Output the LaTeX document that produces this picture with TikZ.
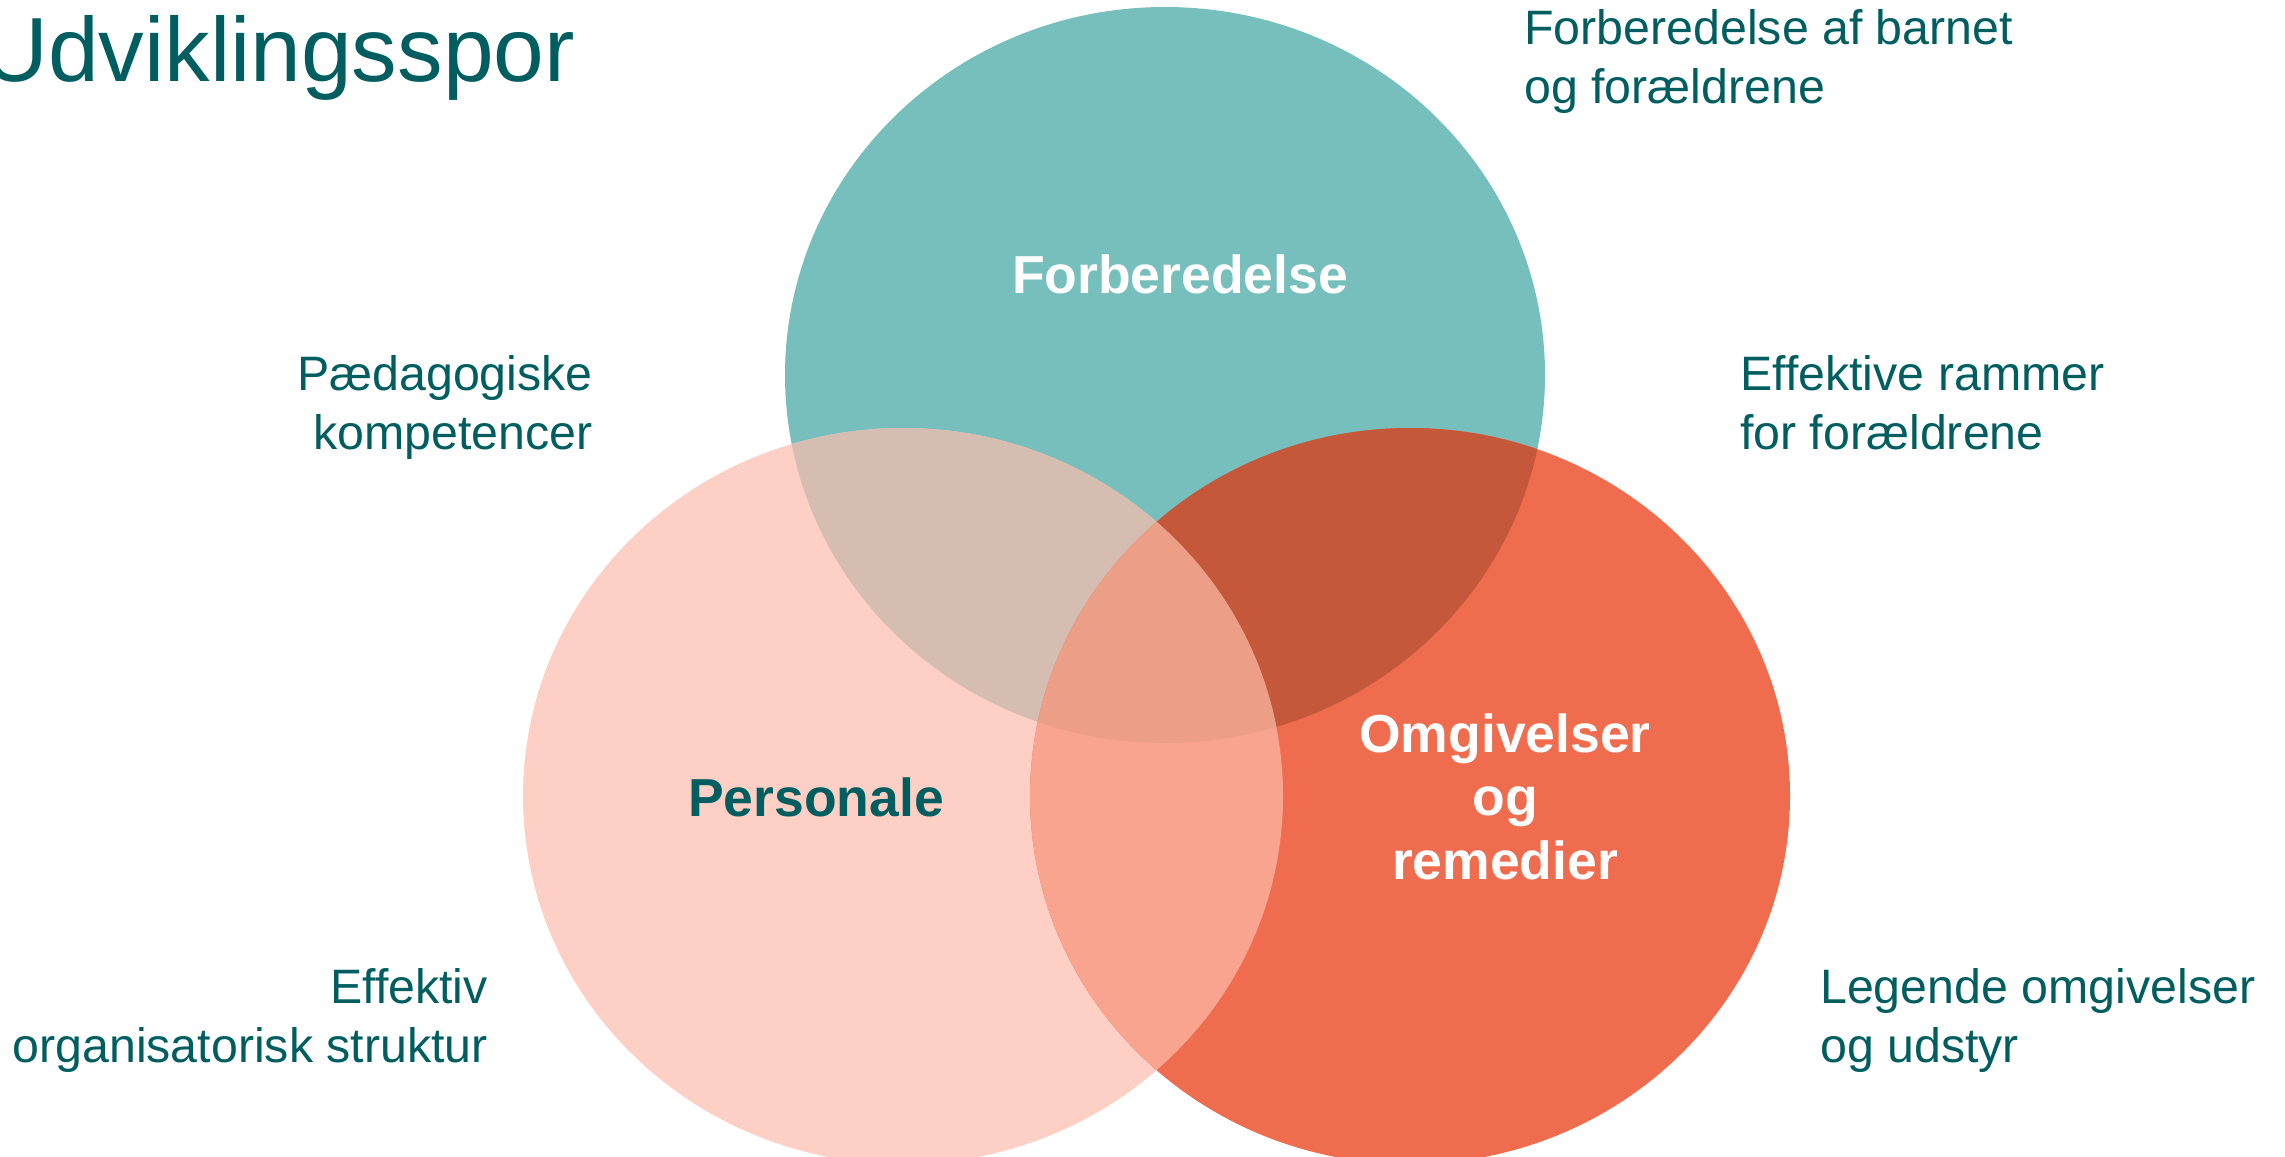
\documentclass[tikz,border=0pt]{standalone}
\usepackage{fontspec}
\setmainfont{Liberation Sans}
\definecolor{txt}{RGB}{0,94,96}
\definecolor{cteal}{RGB}{118,191,188}
\definecolor{cpink}{RGB}{253,207,197}
\definecolor{corange}{RGB}{239,108,79}
\definecolor{ctp}{RGB}{214,189,177}
\definecolor{cto}{RGB}{197,87,58}
\definecolor{cpo}{RGB}{248,164,142}
\definecolor{call}{RGB}{236,158,135}
\tikzset{
  desc/.style={inner sep=0pt, text=txt, font=\fontsize{48.5}{58.5}\selectfont},
  big/.style={inner sep=0pt, font=\fontsize{53.7}{63.5}\selectfont\bfseries, align=center},
  ell/.style={x radius=380bp, y radius=368bp}
}
\begin{document}
\begin{tikzpicture}[x=1bp,y=-1bp]
\useasboundingbox (0,0) rectangle (2285,1156);
\coordinate (cT) at (1165,375);
\coordinate (cP) at (903,796);
\coordinate (cO) at (1410,796);
% base discs
\fill[cteal] (cT) ellipse [ell];
\fill[cpink] (cP) ellipse [ell];
\fill[corange] (cO) ellipse [ell];
% pairwise overlaps
\begin{scope}
  \clip (cT) ellipse [ell];
  \fill[ctp] (cP) ellipse [ell];
  \fill[cto] (cO) ellipse [ell];
\end{scope}
\begin{scope}
  \clip (cP) ellipse [ell];
  \clip (cO) ellipse [ell];
  \fill[cpo] (cO) ellipse [ell];
  \clip (cT) ellipse [ell];
  \fill[call] (cT) ellipse [ell];
\end{scope}
% title
\node[anchor=base west, inner sep=0pt, text=txt, font=\fontsize{91.5}{100}\selectfont] (title) at (-18,81) {Udviklingsspor};
% descriptions (base anchor = baseline of the last line)
\node[desc, anchor=base west, align=left] (d1) at (1524,103) {Forberedelse af barnet\\og forældrene};
\node[desc, anchor=base east, align=right] (d2) at (593,449) {Pædagogiske\\kompetencer};
\node[desc, anchor=base west, align=left] (d3) at (1740,449) {Effektive rammer\\for forældrene};
\node[desc, anchor=base east, align=right] (d4) at (488,1062) {Effektiv\\organisatorisk struktur};
\node[desc, anchor=base west, align=left] (d5) at (1820,1062) {Legende omgivelser\\og udstyr};
% circle labels
\node[big, anchor=base, text=white] (lT) at (1180,293) {Forberedelse};
\node[big, anchor=base, text=txt] (lP) at (816,816) {Personale};
\node[big, anchor=base, text=white] (lO) at (1505,879) {Omgivelser\\og\\remedier};
\end{tikzpicture}
\end{document}
